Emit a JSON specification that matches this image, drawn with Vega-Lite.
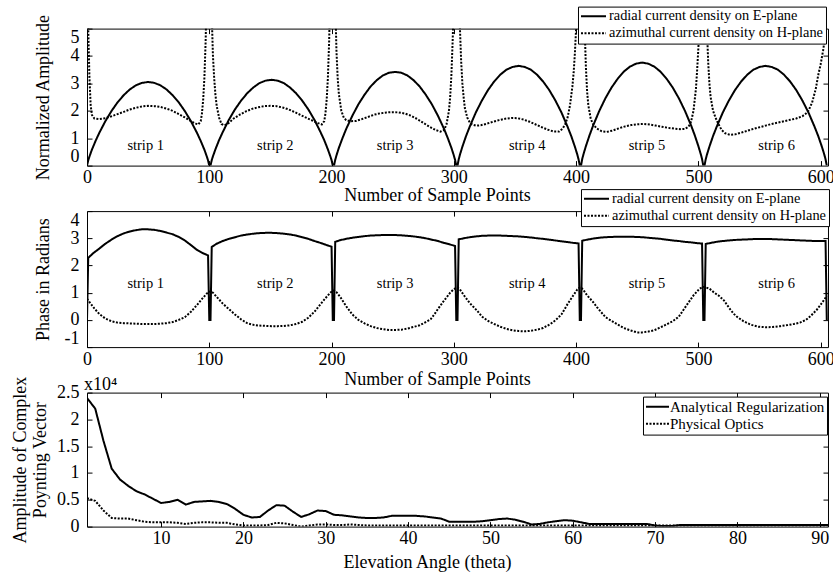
{
"$schema":"https://vega.github.io/schema/vega-lite/v6.json",
"background":"white",
"padding":{"left":10,"top":5.6,"right":0,"bottom":0},
"bounds":"flush",
"spacing":45.5,
"resolve":{"scale":{"strokeDash":"independent"},"legend":{"strokeDash":"independent"}},
"config":{
 "view":{"stroke":"black","strokeWidth":1},
 "font":"Liberation Serif",
 "axis":{"labelFont":"Liberation Serif","labelFontSize":18,"labelColor":"black","titleFont":"Liberation Serif","titleFontSize":18,"titleFontWeight":"normal","titleColor":"black","grid":false,"domain":false,"tickColor":"black","tickSize":-5,"labelPadding":8,"labelFlush":false,"labelExpr":"'' + datum.value"},
 "axisY":{"labelPadding":13},
 "legend":{"labelFont":"Liberation Serif","labelFontSize":14.4,"labelColor":"black","symbolType":"stroke","symbolStrokeColor":"black","symbolStrokeWidth":2,"symbolSize":625,"clipHeight":15.3,"rowPadding":0,"padding":2,"strokeColor":"black","fillColor":"white","labelOffset":2,"labelLimit":400}
},
"datasets":{
"amp":[
{"x":0,"y":0,"s":"E"},{"x":1,"y":0.19,"s":"E"},{"x":2,"y":0.33,"s":"E"},{"x":4,"y":0.58,"s":"E"},{"x":7,"y":0.9,"s":"E"},{"x":10,"y":1.19,"s":"E"},{"x":15,"y":1.62,"s":"E"},{"x":20,"y":1.99,"s":"E"},{"x":25,"y":2.31,"s":"E"},{"x":30,"y":2.57,"s":"E"},{"x":35,"y":2.78,"s":"E"},{"x":40,"y":2.93,"s":"E"},{"x":45,"y":3.02,"s":"E"},{"x":50,"y":3.05,"s":"E"},{"x":55,"y":3.02,"s":"E"},{"x":60,"y":2.93,"s":"E"},{"x":65,"y":2.78,"s":"E"},{"x":70,"y":2.57,"s":"E"},{"x":75,"y":2.31,"s":"E"},{"x":80,"y":1.99,"s":"E"},{"x":85,"y":1.62,"s":"E"},{"x":90,"y":1.19,"s":"E"},{"x":93,"y":0.9,"s":"E"},{"x":96,"y":0.58,"s":"E"},{"x":98,"y":0.33,"s":"E"},{"x":99,"y":0.19,"s":"E"},{"x":100,"y":0,"s":"E"},
{"x":101,"y":0,"s":"E"},{"x":102,"y":0.2,"s":"E"},{"x":103,"y":0.34,"s":"E"},{"x":105,"y":0.59,"s":"E"},{"x":108,"y":0.93,"s":"E"},{"x":111,"y":1.22,"s":"E"},{"x":116,"y":1.67,"s":"E"},{"x":121,"y":2.05,"s":"E"},{"x":126,"y":2.37,"s":"E"},{"x":131,"y":2.64,"s":"E"},{"x":136,"y":2.85,"s":"E"},{"x":141,"y":3.01,"s":"E"},{"x":146,"y":3.1,"s":"E"},{"x":151,"y":3.13,"s":"E"},{"x":156,"y":3.1,"s":"E"},{"x":161,"y":3.01,"s":"E"},{"x":166,"y":2.85,"s":"E"},{"x":171,"y":2.64,"s":"E"},{"x":176,"y":2.37,"s":"E"},{"x":181,"y":2.05,"s":"E"},{"x":186,"y":1.67,"s":"E"},{"x":191,"y":1.22,"s":"E"},{"x":194,"y":0.93,"s":"E"},{"x":197,"y":0.59,"s":"E"},{"x":199,"y":0.34,"s":"E"},{"x":200,"y":0.2,"s":"E"},{"x":201,"y":0,"s":"E"},
{"x":202,"y":0,"s":"E"},{"x":203,"y":0.21,"s":"E"},{"x":204,"y":0.37,"s":"E"},{"x":206,"y":0.65,"s":"E"},{"x":209,"y":1.01,"s":"E"},{"x":212,"y":1.34,"s":"E"},{"x":217,"y":1.82,"s":"E"},{"x":222,"y":2.24,"s":"E"},{"x":227,"y":2.59,"s":"E"},{"x":232,"y":2.89,"s":"E"},{"x":237,"y":3.12,"s":"E"},{"x":242,"y":3.29,"s":"E"},{"x":247,"y":3.39,"s":"E"},{"x":252,"y":3.42,"s":"E"},{"x":257,"y":3.39,"s":"E"},{"x":262,"y":3.29,"s":"E"},{"x":267,"y":3.12,"s":"E"},{"x":272,"y":2.89,"s":"E"},{"x":277,"y":2.59,"s":"E"},{"x":282,"y":2.24,"s":"E"},{"x":287,"y":1.82,"s":"E"},{"x":292,"y":1.34,"s":"E"},{"x":295,"y":1.01,"s":"E"},{"x":298,"y":0.65,"s":"E"},{"x":300,"y":0.37,"s":"E"},{"x":301,"y":0.21,"s":"E"},{"x":302,"y":0,"s":"E"},
{"x":303,"y":0,"s":"E"},{"x":304,"y":0.23,"s":"E"},{"x":305,"y":0.4,"s":"E"},{"x":307,"y":0.69,"s":"E"},{"x":310,"y":1.08,"s":"E"},{"x":313,"y":1.42,"s":"E"},{"x":318,"y":1.94,"s":"E"},{"x":323,"y":2.38,"s":"E"},{"x":328,"y":2.76,"s":"E"},{"x":333,"y":3.07,"s":"E"},{"x":338,"y":3.32,"s":"E"},{"x":343,"y":3.5,"s":"E"},{"x":348,"y":3.6,"s":"E"},{"x":353,"y":3.64,"s":"E"},{"x":358,"y":3.6,"s":"E"},{"x":363,"y":3.5,"s":"E"},{"x":368,"y":3.32,"s":"E"},{"x":373,"y":3.07,"s":"E"},{"x":378,"y":2.76,"s":"E"},{"x":383,"y":2.38,"s":"E"},{"x":388,"y":1.94,"s":"E"},{"x":393,"y":1.42,"s":"E"},{"x":396,"y":1.08,"s":"E"},{"x":399,"y":0.69,"s":"E"},{"x":401,"y":0.4,"s":"E"},{"x":402,"y":0.23,"s":"E"},{"x":403,"y":0,"s":"E"},
{"x":404,"y":0,"s":"E"},{"x":405,"y":0.24,"s":"E"},{"x":406,"y":0.41,"s":"E"},{"x":408,"y":0.71,"s":"E"},{"x":411,"y":1.11,"s":"E"},{"x":414,"y":1.47,"s":"E"},{"x":419,"y":2.0,"s":"E"},{"x":424,"y":2.46,"s":"E"},{"x":429,"y":2.85,"s":"E"},{"x":434,"y":3.17,"s":"E"},{"x":439,"y":3.43,"s":"E"},{"x":444,"y":3.61,"s":"E"},{"x":449,"y":3.72,"s":"E"},{"x":454,"y":3.76,"s":"E"},{"x":459,"y":3.72,"s":"E"},{"x":464,"y":3.61,"s":"E"},{"x":469,"y":3.43,"s":"E"},{"x":474,"y":3.17,"s":"E"},{"x":479,"y":2.85,"s":"E"},{"x":484,"y":2.46,"s":"E"},{"x":489,"y":2.0,"s":"E"},{"x":494,"y":1.47,"s":"E"},{"x":497,"y":1.11,"s":"E"},{"x":500,"y":0.71,"s":"E"},{"x":502,"y":0.41,"s":"E"},{"x":503,"y":0.24,"s":"E"},{"x":504,"y":0,"s":"E"},
{"x":505,"y":0,"s":"E"},{"x":506,"y":0.23,"s":"E"},{"x":507,"y":0.4,"s":"E"},{"x":509,"y":0.69,"s":"E"},{"x":512,"y":1.08,"s":"E"},{"x":515,"y":1.42,"s":"E"},{"x":520,"y":1.94,"s":"E"},{"x":525,"y":2.38,"s":"E"},{"x":530,"y":2.76,"s":"E"},{"x":535,"y":3.07,"s":"E"},{"x":540,"y":3.32,"s":"E"},{"x":545,"y":3.5,"s":"E"},{"x":550,"y":3.6,"s":"E"},{"x":555,"y":3.64,"s":"E"},{"x":560,"y":3.6,"s":"E"},{"x":565,"y":3.5,"s":"E"},{"x":570,"y":3.32,"s":"E"},{"x":575,"y":3.07,"s":"E"},{"x":580,"y":2.76,"s":"E"},{"x":585,"y":2.38,"s":"E"},{"x":590,"y":1.94,"s":"E"},{"x":595,"y":1.42,"s":"E"},{"x":598,"y":1.08,"s":"E"},{"x":601,"y":0.69,"s":"E"},{"x":603,"y":0.4,"s":"E"},{"x":604,"y":0.23,"s":"E"},{"x":605,"y":0,"s":"E"},
{"x":0,"y":8,"s":"H"},{"x":1,"y":5,"s":"H"},{"x":2,"y":3.2,"s":"H"},{"x":3,"y":2.2,"s":"H"},{"x":4,"y":1.85,"s":"H"},{"x":6,"y":1.72,"s":"H"},{"x":10,"y":1.7,"s":"H"},{"x":15,"y":1.73,"s":"H"},{"x":20,"y":1.8,"s":"H"},{"x":25,"y":1.88,"s":"H"},{"x":30,"y":1.96,"s":"H"},{"x":35,"y":2.05,"s":"H"},{"x":40,"y":2.11,"s":"H"},{"x":45,"y":2.16,"s":"H"},{"x":50,"y":2.18,"s":"H"},{"x":55,"y":2.17,"s":"H"},{"x":60,"y":2.14,"s":"H"},{"x":65,"y":2.08,"s":"H"},{"x":70,"y":2.0,"s":"H"},{"x":75,"y":1.88,"s":"H"},{"x":80,"y":1.76,"s":"H"},{"x":85,"y":1.62,"s":"H"},{"x":89,"y":1.53,"s":"H"},{"x":91,"y":1.5,"s":"H"},{"x":93,"y":1.62,"s":"H"},{"x":94,"y":1.9,"s":"H"},{"x":95,"y":2.4,"s":"H"},{"x":96,"y":3.2,"s":"H"},{"x":97,"y":4.5,"s":"H"},{"x":98,"y":6.5,"s":"H"},{"x":99,"y":9,"s":"H"},{"x":100,"y":12,"s":"H"},
{"x":101,"y":12,"s":"H"},{"x":102,"y":5.5,"s":"H"},{"x":103,"y":4.0,"s":"H"},{"x":104,"y":3.2,"s":"H"},{"x":105,"y":2.6,"s":"H"},{"x":106,"y":2.2,"s":"H"},{"x":108,"y":1.75,"s":"H"},{"x":110,"y":1.52,"s":"H"},{"x":112,"y":1.47,"s":"H"},{"x":115,"y":1.52,"s":"H"},{"x":120,"y":1.72,"s":"H"},{"x":125,"y":1.86,"s":"H"},{"x":130,"y":1.98,"s":"H"},{"x":135,"y":2.07,"s":"H"},{"x":140,"y":2.13,"s":"H"},{"x":145,"y":2.17,"s":"H"},{"x":150,"y":2.18,"s":"H"},{"x":155,"y":2.17,"s":"H"},{"x":160,"y":2.12,"s":"H"},{"x":165,"y":2.05,"s":"H"},{"x":170,"y":1.95,"s":"H"},{"x":175,"y":1.84,"s":"H"},{"x":180,"y":1.73,"s":"H"},{"x":185,"y":1.63,"s":"H"},{"x":189,"y":1.55,"s":"H"},{"x":192,"y":1.5,"s":"H"},{"x":194,"y":1.62,"s":"H"},{"x":195,"y":1.9,"s":"H"},{"x":196,"y":2.4,"s":"H"},{"x":197,"y":3.2,"s":"H"},{"x":198,"y":4.5,"s":"H"},{"x":199,"y":6.5,"s":"H"},{"x":200,"y":9,"s":"H"},{"x":201,"y":12,"s":"H"},
{"x":202,"y":12,"s":"H"},{"x":203,"y":6,"s":"H"},{"x":204,"y":4.2,"s":"H"},{"x":205,"y":3.2,"s":"H"},{"x":206,"y":2.6,"s":"H"},{"x":208,"y":2.0,"s":"H"},{"x":210,"y":1.75,"s":"H"},{"x":212,"y":1.66,"s":"H"},{"x":215,"y":1.62,"s":"H"},{"x":220,"y":1.63,"s":"H"},{"x":225,"y":1.7,"s":"H"},{"x":230,"y":1.78,"s":"H"},{"x":235,"y":1.86,"s":"H"},{"x":240,"y":1.91,"s":"H"},{"x":245,"y":1.94,"s":"H"},{"x":250,"y":1.95,"s":"H"},{"x":255,"y":1.94,"s":"H"},{"x":260,"y":1.9,"s":"H"},{"x":265,"y":1.82,"s":"H"},{"x":270,"y":1.7,"s":"H"},{"x":275,"y":1.56,"s":"H"},{"x":280,"y":1.42,"s":"H"},{"x":285,"y":1.3,"s":"H"},{"x":289,"y":1.24,"s":"H"},{"x":292,"y":1.3,"s":"H"},{"x":294,"y":1.5,"s":"H"},{"x":296,"y":2.0,"s":"H"},{"x":297,"y":2.5,"s":"H"},{"x":298,"y":3.3,"s":"H"},{"x":299,"y":4.5,"s":"H"},{"x":300,"y":6,"s":"H"},{"x":301,"y":8.5,"s":"H"},{"x":302,"y":12,"s":"H"},
{"x":303,"y":12,"s":"H"},{"x":304,"y":7,"s":"H"},{"x":305,"y":5.0,"s":"H"},{"x":306,"y":3.8,"s":"H"},{"x":307,"y":3.0,"s":"H"},{"x":308,"y":2.5,"s":"H"},{"x":309,"y":2.1,"s":"H"},{"x":311,"y":1.75,"s":"H"},{"x":313,"y":1.58,"s":"H"},{"x":315,"y":1.5,"s":"H"},{"x":318,"y":1.46,"s":"H"},{"x":322,"y":1.47,"s":"H"},{"x":327,"y":1.53,"s":"H"},{"x":332,"y":1.6,"s":"H"},{"x":337,"y":1.66,"s":"H"},{"x":342,"y":1.71,"s":"H"},{"x":347,"y":1.74,"s":"H"},{"x":352,"y":1.73,"s":"H"},{"x":357,"y":1.68,"s":"H"},{"x":362,"y":1.6,"s":"H"},{"x":367,"y":1.5,"s":"H"},{"x":372,"y":1.4,"s":"H"},{"x":377,"y":1.31,"s":"H"},{"x":382,"y":1.24,"s":"H"},{"x":386,"y":1.24,"s":"H"},{"x":389,"y":1.35,"s":"H"},{"x":391,"y":1.5,"s":"H"},{"x":393,"y":1.75,"s":"H"},{"x":395,"y":2.2,"s":"H"},{"x":397,"y":2.9,"s":"H"},{"x":398,"y":3.4,"s":"H"},{"x":399,"y":4.1,"s":"H"},{"x":400,"y":5.0,"s":"H"},{"x":401,"y":6.5,"s":"H"},{"x":402,"y":9,"s":"H"},{"x":403,"y":12,"s":"H"},
{"x":404,"y":12,"s":"H"},{"x":405,"y":9,"s":"H"},{"x":406,"y":6.5,"s":"H"},{"x":407,"y":5.0,"s":"H"},{"x":408,"y":3.6,"s":"H"},{"x":409,"y":2.7,"s":"H"},{"x":410,"y":2.2,"s":"H"},{"x":412,"y":1.7,"s":"H"},{"x":414,"y":1.5,"s":"H"},{"x":417,"y":1.35,"s":"H"},{"x":421,"y":1.25,"s":"H"},{"x":425,"y":1.23,"s":"H"},{"x":430,"y":1.28,"s":"H"},{"x":435,"y":1.36,"s":"H"},{"x":440,"y":1.43,"s":"H"},{"x":445,"y":1.48,"s":"H"},{"x":450,"y":1.51,"s":"H"},{"x":455,"y":1.52,"s":"H"},{"x":460,"y":1.5,"s":"H"},{"x":465,"y":1.46,"s":"H"},{"x":470,"y":1.42,"s":"H"},{"x":475,"y":1.38,"s":"H"},{"x":480,"y":1.35,"s":"H"},{"x":485,"y":1.33,"s":"H"},{"x":489,"y":1.34,"s":"H"},{"x":492,"y":1.42,"s":"H"},{"x":494,"y":1.6,"s":"H"},{"x":496,"y":2.0,"s":"H"},{"x":498,"y":2.8,"s":"H"},{"x":499,"y":3.5,"s":"H"},{"x":500,"y":4.3,"s":"H"},{"x":501,"y":5.2,"s":"H"},{"x":502,"y":6.5,"s":"H"},{"x":503,"y":9,"s":"H"},{"x":504,"y":12,"s":"H"},
{"x":505,"y":12,"s":"H"},{"x":506,"y":7,"s":"H"},{"x":507,"y":5.0,"s":"H"},{"x":508,"y":3.8,"s":"H"},{"x":509,"y":3.0,"s":"H"},{"x":510,"y":2.5,"s":"H"},{"x":512,"y":2.0,"s":"H"},{"x":514,"y":1.75,"s":"H"},{"x":516,"y":1.55,"s":"H"},{"x":519,"y":1.3,"s":"H"},{"x":522,"y":1.18,"s":"H"},{"x":526,"y":1.12,"s":"H"},{"x":530,"y":1.14,"s":"H"},{"x":535,"y":1.2,"s":"H"},{"x":540,"y":1.27,"s":"H"},{"x":545,"y":1.34,"s":"H"},{"x":550,"y":1.4,"s":"H"},{"x":555,"y":1.46,"s":"H"},{"x":560,"y":1.52,"s":"H"},{"x":565,"y":1.57,"s":"H"},{"x":570,"y":1.62,"s":"H"},{"x":575,"y":1.67,"s":"H"},{"x":580,"y":1.72,"s":"H"},{"x":585,"y":1.8,"s":"H"},{"x":588,"y":1.9,"s":"H"},{"x":590,"y":2.0,"s":"H"},{"x":593,"y":2.3,"s":"H"},{"x":596,"y":2.8,"s":"H"},{"x":598,"y":3.3,"s":"H"},{"x":600,"y":3.7,"s":"H"},{"x":602,"y":4.2,"s":"H"},{"x":604,"y":4.8,"s":"H"},{"x":605,"y":5.5,"s":"H"},{"x":606,"y":7,"s":"H"}
],
"phase":[
{"x":0,"y":0,"s":"E"},{"x":1,"y":2.28,"s":"E"},{"x":5,"y":2.45,"s":"E"},{"x":10,"y":2.62,"s":"E"},{"x":15,"y":2.8,"s":"E"},{"x":20,"y":2.95,"s":"E"},{"x":25,"y":3.08,"s":"E"},{"x":30,"y":3.18,"s":"E"},{"x":35,"y":3.25,"s":"E"},{"x":40,"y":3.3,"s":"E"},{"x":45,"y":3.33,"s":"E"},{"x":50,"y":3.33,"s":"E"},{"x":55,"y":3.31,"s":"E"},{"x":60,"y":3.27,"s":"E"},{"x":65,"y":3.21,"s":"E"},{"x":70,"y":3.15,"s":"E"},{"x":75,"y":3.05,"s":"E"},{"x":80,"y":2.92,"s":"E"},{"x":85,"y":2.75,"s":"E"},{"x":90,"y":2.57,"s":"E"},{"x":95,"y":2.45,"s":"E"},{"x":99,"y":2.37,"s":"E"},{"x":100,"y":0,"s":"E"},
{"x":101,"y":0,"s":"E"},{"x":102,"y":2.68,"s":"E"},{"x":106,"y":2.8,"s":"E"},{"x":111,"y":2.9,"s":"E"},{"x":116,"y":2.98,"s":"E"},{"x":121,"y":3.04,"s":"E"},{"x":126,"y":3.1,"s":"E"},{"x":131,"y":3.14,"s":"E"},{"x":136,"y":3.17,"s":"E"},{"x":141,"y":3.19,"s":"E"},{"x":146,"y":3.2,"s":"E"},{"x":151,"y":3.2,"s":"E"},{"x":156,"y":3.19,"s":"E"},{"x":161,"y":3.17,"s":"E"},{"x":166,"y":3.14,"s":"E"},{"x":171,"y":3.1,"s":"E"},{"x":176,"y":3.04,"s":"E"},{"x":181,"y":2.98,"s":"E"},{"x":186,"y":2.9,"s":"E"},{"x":191,"y":2.83,"s":"E"},{"x":196,"y":2.75,"s":"E"},{"x":200,"y":2.69,"s":"E"},{"x":201,"y":0,"s":"E"},
{"x":202,"y":0,"s":"E"},{"x":203,"y":2.87,"s":"E"},{"x":207,"y":2.93,"s":"E"},{"x":212,"y":2.98,"s":"E"},{"x":217,"y":3.02,"s":"E"},{"x":222,"y":3.05,"s":"E"},{"x":227,"y":3.08,"s":"E"},{"x":232,"y":3.1,"s":"E"},{"x":237,"y":3.11,"s":"E"},{"x":242,"y":3.12,"s":"E"},{"x":247,"y":3.12,"s":"E"},{"x":252,"y":3.12,"s":"E"},{"x":257,"y":3.11,"s":"E"},{"x":262,"y":3.09,"s":"E"},{"x":267,"y":3.07,"s":"E"},{"x":272,"y":3.04,"s":"E"},{"x":277,"y":3.0,"s":"E"},{"x":282,"y":2.95,"s":"E"},{"x":287,"y":2.9,"s":"E"},{"x":292,"y":2.83,"s":"E"},{"x":297,"y":2.77,"s":"E"},{"x":301,"y":2.72,"s":"E"},{"x":302,"y":0,"s":"E"},
{"x":303,"y":0,"s":"E"},{"x":304,"y":2.96,"s":"E"},{"x":308,"y":3.0,"s":"E"},{"x":313,"y":3.04,"s":"E"},{"x":318,"y":3.07,"s":"E"},{"x":323,"y":3.09,"s":"E"},{"x":328,"y":3.1,"s":"E"},{"x":333,"y":3.1,"s":"E"},{"x":338,"y":3.1,"s":"E"},{"x":343,"y":3.09,"s":"E"},{"x":348,"y":3.08,"s":"E"},{"x":353,"y":3.07,"s":"E"},{"x":358,"y":3.05,"s":"E"},{"x":363,"y":3.03,"s":"E"},{"x":368,"y":3.0,"s":"E"},{"x":373,"y":2.98,"s":"E"},{"x":378,"y":2.95,"s":"E"},{"x":383,"y":2.92,"s":"E"},{"x":388,"y":2.89,"s":"E"},{"x":393,"y":2.86,"s":"E"},{"x":398,"y":2.83,"s":"E"},{"x":402,"y":2.81,"s":"E"},{"x":403,"y":0,"s":"E"},
{"x":404,"y":0,"s":"E"},{"x":405,"y":2.91,"s":"E"},{"x":409,"y":2.95,"s":"E"},{"x":414,"y":2.99,"s":"E"},{"x":419,"y":3.02,"s":"E"},{"x":424,"y":3.04,"s":"E"},{"x":429,"y":3.05,"s":"E"},{"x":434,"y":3.06,"s":"E"},{"x":439,"y":3.06,"s":"E"},{"x":444,"y":3.06,"s":"E"},{"x":449,"y":3.05,"s":"E"},{"x":454,"y":3.04,"s":"E"},{"x":459,"y":3.02,"s":"E"},{"x":464,"y":3.0,"s":"E"},{"x":469,"y":2.98,"s":"E"},{"x":474,"y":2.95,"s":"E"},{"x":479,"y":2.92,"s":"E"},{"x":484,"y":2.9,"s":"E"},{"x":489,"y":2.87,"s":"E"},{"x":494,"y":2.85,"s":"E"},{"x":499,"y":2.82,"s":"E"},{"x":503,"y":2.81,"s":"E"},{"x":504,"y":0,"s":"E"},
{"x":505,"y":0,"s":"E"},{"x":506,"y":2.79,"s":"E"},{"x":510,"y":2.83,"s":"E"},{"x":515,"y":2.87,"s":"E"},{"x":520,"y":2.9,"s":"E"},{"x":525,"y":2.92,"s":"E"},{"x":530,"y":2.94,"s":"E"},{"x":535,"y":2.95,"s":"E"},{"x":540,"y":2.96,"s":"E"},{"x":545,"y":2.97,"s":"E"},{"x":550,"y":2.97,"s":"E"},{"x":555,"y":2.97,"s":"E"},{"x":560,"y":2.97,"s":"E"},{"x":565,"y":2.96,"s":"E"},{"x":570,"y":2.95,"s":"E"},{"x":575,"y":2.94,"s":"E"},{"x":580,"y":2.93,"s":"E"},{"x":585,"y":2.92,"s":"E"},{"x":590,"y":2.91,"s":"E"},{"x":595,"y":2.9,"s":"E"},{"x":600,"y":2.9,"s":"E"},{"x":604,"y":2.9,"s":"E"},{"x":605,"y":0,"s":"E"},
{"x":0,"y":0.78,"s":"H"},{"x":3,"y":0.6,"s":"H"},{"x":6,"y":0.42,"s":"H"},{"x":10,"y":0.22,"s":"H"},{"x":15,"y":0.05,"s":"H"},{"x":20,"y":-0.05,"s":"H"},{"x":25,"y":-0.1,"s":"H"},{"x":30,"y":-0.12,"s":"H"},{"x":35,"y":-0.13,"s":"H"},{"x":40,"y":-0.14,"s":"H"},{"x":45,"y":-0.15,"s":"H"},{"x":50,"y":-0.15,"s":"H"},{"x":55,"y":-0.15,"s":"H"},{"x":60,"y":-0.14,"s":"H"},{"x":65,"y":-0.12,"s":"H"},{"x":70,"y":-0.08,"s":"H"},{"x":75,"y":0.0,"s":"H"},{"x":80,"y":0.1,"s":"H"},{"x":85,"y":0.3,"s":"H"},{"x":90,"y":0.55,"s":"H"},{"x":95,"y":0.82,"s":"H"},{"x":98,"y":0.97,"s":"H"},{"x":100,"y":1.03,"s":"H"},
{"x":101,"y":1.05,"s":"H"},{"x":103,"y":1.0,"s":"H"},{"x":106,"y":0.85,"s":"H"},{"x":111,"y":0.6,"s":"H"},{"x":116,"y":0.4,"s":"H"},{"x":121,"y":0.2,"s":"H"},{"x":126,"y":0.02,"s":"H"},{"x":131,"y":-0.12,"s":"H"},{"x":136,"y":-0.18,"s":"H"},{"x":141,"y":-0.21,"s":"H"},{"x":146,"y":-0.22,"s":"H"},{"x":151,"y":-0.23,"s":"H"},{"x":156,"y":-0.23,"s":"H"},{"x":161,"y":-0.22,"s":"H"},{"x":166,"y":-0.2,"s":"H"},{"x":171,"y":-0.15,"s":"H"},{"x":176,"y":-0.07,"s":"H"},{"x":181,"y":0.08,"s":"H"},{"x":186,"y":0.3,"s":"H"},{"x":191,"y":0.58,"s":"H"},{"x":196,"y":0.85,"s":"H"},{"x":199,"y":1.0,"s":"H"},{"x":201,"y":1.07,"s":"H"},
{"x":202,"y":1.08,"s":"H"},{"x":204,"y":1.02,"s":"H"},{"x":207,"y":0.85,"s":"H"},{"x":212,"y":0.5,"s":"H"},{"x":217,"y":0.2,"s":"H"},{"x":222,"y":0.0,"s":"H"},{"x":227,"y":-0.13,"s":"H"},{"x":232,"y":-0.23,"s":"H"},{"x":237,"y":-0.3,"s":"H"},{"x":242,"y":-0.34,"s":"H"},{"x":247,"y":-0.37,"s":"H"},{"x":252,"y":-0.37,"s":"H"},{"x":257,"y":-0.36,"s":"H"},{"x":262,"y":-0.32,"s":"H"},{"x":267,"y":-0.26,"s":"H"},{"x":272,"y":-0.2,"s":"H"},{"x":277,"y":-0.08,"s":"H"},{"x":281,"y":0.02,"s":"H"},{"x":284,"y":0.2,"s":"H"},{"x":287,"y":0.4,"s":"H"},{"x":292,"y":0.71,"s":"H"},{"x":297,"y":1.0,"s":"H"},{"x":300,"y":1.13,"s":"H"},{"x":302,"y":1.18,"s":"H"},
{"x":303,"y":1.19,"s":"H"},{"x":305,"y":1.12,"s":"H"},{"x":308,"y":0.92,"s":"H"},{"x":313,"y":0.62,"s":"H"},{"x":319,"y":0.34,"s":"H"},{"x":323,"y":0.12,"s":"H"},{"x":328,"y":-0.04,"s":"H"},{"x":333,"y":-0.15,"s":"H"},{"x":338,"y":-0.25,"s":"H"},{"x":343,"y":-0.33,"s":"H"},{"x":348,"y":-0.38,"s":"H"},{"x":353,"y":-0.41,"s":"H"},{"x":358,"y":-0.42,"s":"H"},{"x":363,"y":-0.4,"s":"H"},{"x":368,"y":-0.36,"s":"H"},{"x":373,"y":-0.3,"s":"H"},{"x":379,"y":-0.15,"s":"H"},{"x":383,"y":-0.02,"s":"H"},{"x":388,"y":0.2,"s":"H"},{"x":393,"y":0.58,"s":"H"},{"x":398,"y":0.92,"s":"H"},{"x":401,"y":1.12,"s":"H"},{"x":403,"y":1.19,"s":"H"},
{"x":404,"y":1.2,"s":"H"},{"x":406,"y":1.1,"s":"H"},{"x":409,"y":0.9,"s":"H"},{"x":414,"y":0.65,"s":"H"},{"x":417,"y":0.47,"s":"H"},{"x":424,"y":0.1,"s":"H"},{"x":431,"y":-0.09,"s":"H"},{"x":439,"y":-0.3,"s":"H"},{"x":444,"y":-0.38,"s":"H"},{"x":450,"y":-0.46,"s":"H"},{"x":454,"y":-0.46,"s":"H"},{"x":459,"y":-0.43,"s":"H"},{"x":464,"y":-0.38,"s":"H"},{"x":472,"y":-0.21,"s":"H"},{"x":479,"y":-0.05,"s":"H"},{"x":484,"y":0.12,"s":"H"},{"x":491,"y":0.58,"s":"H"},{"x":496,"y":0.9,"s":"H"},{"x":501,"y":1.15,"s":"H"},{"x":504,"y":1.21,"s":"H"},
{"x":505,"y":1.21,"s":"H"},{"x":509,"y":1.15,"s":"H"},{"x":513,"y":1.0,"s":"H"},{"x":517,"y":0.88,"s":"H"},{"x":521,"y":0.71,"s":"H"},{"x":525,"y":0.45,"s":"H"},{"x":529,"y":0.22,"s":"H"},{"x":532,"y":0.1,"s":"H"},{"x":537,"y":-0.05,"s":"H"},{"x":543,"y":-0.18,"s":"H"},{"x":549,"y":-0.25,"s":"H"},{"x":555,"y":-0.27,"s":"H"},{"x":561,"y":-0.26,"s":"H"},{"x":567,"y":-0.23,"s":"H"},{"x":573,"y":-0.19,"s":"H"},{"x":578,"y":-0.15,"s":"H"},{"x":583,"y":-0.1,"s":"H"},{"x":588,"y":0.0,"s":"H"},{"x":592,"y":0.15,"s":"H"},{"x":597,"y":0.38,"s":"H"},{"x":601,"y":0.62,"s":"H"},{"x":605,"y":0.88,"s":"H"}
],
"poynting":[
{"x":1,"y":2.4,"s":"A"},{"x":2,"y":2.2,"s":"A"},{"x":3,"y":1.6,"s":"A"},{"x":4,"y":1.08,"s":"A"},{"x":5,"y":0.88,"s":"A"},{"x":6,"y":0.76,"s":"A"},{"x":7,"y":0.66,"s":"A"},{"x":8,"y":0.6,"s":"A"},{"x":9,"y":0.52,"s":"A"},{"x":10,"y":0.44,"s":"A"},{"x":11,"y":0.46,"s":"A"},{"x":12,"y":0.5,"s":"A"},{"x":13,"y":0.41,"s":"A"},{"x":14,"y":0.46,"s":"A"},{"x":15,"y":0.47,"s":"A"},{"x":16,"y":0.48,"s":"A"},{"x":17,"y":0.46,"s":"A"},{"x":18,"y":0.42,"s":"A"},{"x":19,"y":0.33,"s":"A"},{"x":20,"y":0.22,"s":"A"},{"x":21,"y":0.17,"s":"A"},{"x":22,"y":0.18,"s":"A"},{"x":23,"y":0.3,"s":"A"},{"x":24,"y":0.4,"s":"A"},{"x":25,"y":0.39,"s":"A"},{"x":26,"y":0.28,"s":"A"},{"x":27,"y":0.18,"s":"A"},{"x":28,"y":0.23,"s":"A"},{"x":29,"y":0.3,"s":"A"},{"x":30,"y":0.29,"s":"A"},{"x":31,"y":0.22,"s":"A"},{"x":32,"y":0.21,"s":"A"},{"x":33,"y":0.19,"s":"A"},{"x":34,"y":0.17,"s":"A"},{"x":35,"y":0.16,"s":"A"},{"x":36,"y":0.16,"s":"A"},{"x":37,"y":0.17,"s":"A"},{"x":38,"y":0.2,"s":"A"},{"x":39,"y":0.2,"s":"A"},{"x":40,"y":0.2,"s":"A"},{"x":41,"y":0.2,"s":"A"},{"x":42,"y":0.19,"s":"A"},{"x":43,"y":0.17,"s":"A"},{"x":44,"y":0.15,"s":"A"},{"x":45,"y":0.09,"s":"A"},{"x":46,"y":0.09,"s":"A"},{"x":47,"y":0.09,"s":"A"},{"x":48,"y":0.09,"s":"A"},{"x":49,"y":0.1,"s":"A"},{"x":50,"y":0.12,"s":"A"},{"x":51,"y":0.14,"s":"A"},{"x":52,"y":0.15,"s":"A"},{"x":53,"y":0.13,"s":"A"},{"x":54,"y":0.09,"s":"A"},{"x":55,"y":0.04,"s":"A"},{"x":56,"y":0.05,"s":"A"},{"x":57,"y":0.08,"s":"A"},{"x":58,"y":0.1,"s":"A"},{"x":59,"y":0.12,"s":"A"},{"x":60,"y":0.11,"s":"A"},{"x":61,"y":0.08,"s":"A"},{"x":62,"y":0.05,"s":"A"},{"x":65,"y":0.05,"s":"A"},{"x":69,"y":0.05,"s":"A"},{"x":70,"y":0.02,"s":"A"},{"x":71,"y":0.01,"s":"A"},{"x":72,"y":0.01,"s":"A"},{"x":73,"y":0.03,"s":"A"},{"x":76,"y":0.03,"s":"A"},{"x":80,"y":0.03,"s":"A"},{"x":85,"y":0.03,"s":"A"},{"x":91,"y":0.03,"s":"A"},
{"x":1,"y":0.53,"s":"P"},{"x":2,"y":0.48,"s":"P"},{"x":3,"y":0.3,"s":"P"},{"x":4,"y":0.16,"s":"P"},{"x":5,"y":0.15,"s":"P"},{"x":6,"y":0.15,"s":"P"},{"x":7,"y":0.12,"s":"P"},{"x":8,"y":0.09,"s":"P"},{"x":9,"y":0.08,"s":"P"},{"x":10,"y":0.08,"s":"P"},{"x":11,"y":0.08,"s":"P"},{"x":12,"y":0.07,"s":"P"},{"x":13,"y":0.05,"s":"P"},{"x":14,"y":0.07,"s":"P"},{"x":15,"y":0.08,"s":"P"},{"x":16,"y":0.08,"s":"P"},{"x":17,"y":0.07,"s":"P"},{"x":18,"y":0.07,"s":"P"},{"x":19,"y":0.04,"s":"P"},{"x":20,"y":0.02,"s":"P"},{"x":21,"y":0.02,"s":"P"},{"x":22,"y":0.02,"s":"P"},{"x":23,"y":0.03,"s":"P"},{"x":24,"y":0.07,"s":"P"},{"x":25,"y":0.06,"s":"P"},{"x":26,"y":0.03,"s":"P"},{"x":27,"y":0.0,"s":"P"},{"x":28,"y":0.02,"s":"P"},{"x":29,"y":0.04,"s":"P"},{"x":30,"y":0.04,"s":"P"},{"x":31,"y":0.03,"s":"P"},{"x":32,"y":0.03,"s":"P"},{"x":33,"y":0.04,"s":"P"},{"x":35,"y":0.02,"s":"P"},{"x":40,"y":0.02,"s":"P"},{"x":50,"y":0.02,"s":"P"},{"x":60,"y":0.02,"s":"P"},{"x":70,"y":0.02,"s":"P"},{"x":80,"y":0.02,"s":"P"},{"x":91,"y":0.02,"s":"P"}
],
"strips1":[{"x":48,"y":0.72,"t":"strip 1"},{"x":154,"y":0.72,"t":"strip 2"},{"x":252,"y":0.72,"t":"strip 3"},{"x":360,"y":0.72,"t":"strip 4"},{"x":458,"y":0.72,"t":"strip 5"},{"x":564,"y":0.72,"t":"strip 6"}],
"strips2":[{"x":48,"y":1.33,"t":"strip 1"},{"x":154,"y":1.33,"t":"strip 2"},{"x":252,"y":1.33,"t":"strip 3"},{"x":360,"y":1.33,"t":"strip 4"},{"x":458,"y":1.33,"t":"strip 5"},{"x":564,"y":1.33,"t":"strip 6"}],
"expo":[{"x":1,"y":2.5,"t":"x10⁴"}]
},
"vconcat":[
{
 "width":741,"height":137,
 "layer":[
  {"data":{"name":"amp"},"mark":{"type":"line","clip":true,"strokeWidth":2,"color":"black"},
   "encoding":{
    "x":{"field":"x","type":"quantitative","scale":{"domain":[0,606],"nice":false,"zero":false},"axis":{"orient":"bottom","values":[0,100,200,300,400,500,600],"title":"Number of Sample Points","titleX":350,"titleY":35,"titleBaseline":"alphabetic"}},
    "y":{"field":"y","type":"quantitative","scale":{"domain":[0,5],"nice":false},"axis":{"orient":"left","values":[0,1,2,3,4,5],"title":"Normalized Amplitude","titleX":-44,"titleBaseline":"middle","labelFlush":true}},
    "strokeDash":{"field":"s","type":"nominal","scale":{"domain":["E","H"],"range":[[1,0],[2,1.5]]},"legend":{"orient":"none","title":null,"legendX":491,"legendY":-22,"labelExpr":"datum.label == 'E' ? 'radial current density on E-plane' : 'azimuthal current density on H-plane'"}}
   }},
  {"data":{"name":"strips1"},"mark":{"type":"text","font":"Liberation Serif","fontSize":14.5,"color":"black"},
   "encoding":{
    "x":{"field":"x","type":"quantitative","scale":{"domain":[0,606],"nice":false,"zero":false},"axis":{"orient":"top","values":[100,200,300,400,500,600],"labels":false,"title":null}},
    "y":{"field":"y","type":"quantitative","scale":{"domain":[0,5],"nice":false},"axis":{"orient":"right","values":[1,2,3,4],"labels":false,"title":null}},
    "text":{"field":"t"}
   }}
 ],
 "resolve":{"axis":{"x":"independent","y":"independent"}}
},
{
 "width":741,"height":136,
 "layer":[
  {"data":{"name":"phase"},"mark":{"type":"line","clip":true,"strokeWidth":2,"color":"black"},
   "encoding":{
    "x":{"field":"x","type":"quantitative","scale":{"domain":[0,606],"nice":false,"zero":false},"axis":{"orient":"bottom","values":[0,100,200,300,400,500,600],"title":"Number of Sample Points","titleX":350,"titleY":37,"titleBaseline":"alphabetic"}},
    "y":{"field":"y","type":"quantitative","scale":{"domain":[-1,4],"nice":false,"zero":false},"axis":{"orient":"left","values":[-1,0,1,2,3,4],"title":"Phase in Radians","titleX":-44,"titleBaseline":"middle","labelFlush":true}},
    "strokeDash":{"field":"s","type":"nominal","scale":{"domain":["E","H"],"range":[[1,0],[2,1.5]]},"legend":{"orient":"none","title":null,"legendX":494,"legendY":-22,"labelExpr":"datum.label == 'E' ? 'radial current density on E-plane' : 'azimuthal current density on H-plane'"}}
   }},
  {"data":{"name":"strips2"},"mark":{"type":"text","font":"Liberation Serif","fontSize":14.5,"color":"black"},
   "encoding":{
    "x":{"field":"x","type":"quantitative","scale":{"domain":[0,606],"nice":false,"zero":false},"axis":{"orient":"top","values":[100,200,300,400,500,600],"labels":false,"title":null}},
    "y":{"field":"y","type":"quantitative","scale":{"domain":[-1,4],"nice":false,"zero":false},"axis":{"orient":"right","values":[0,1,2,3],"labels":false,"title":null}},
    "text":{"field":"t"}
   }}
 ],
 "resolve":{"axis":{"x":"independent","y":"independent"}}
},
{
 "width":741,"height":134,
 "layer":[
  {"data":{"name":"poynting"},"mark":{"type":"line","clip":true,"strokeWidth":2,"color":"black"},
   "encoding":{
    "x":{"field":"x","type":"quantitative","scale":{"domain":[1,91],"nice":false,"zero":false},"axis":{"orient":"bottom","values":[10,20,30,40,50,60,70,80,90],"title":"Elevation Angle (theta)","titleX":340,"titleY":41,"titleBaseline":"alphabetic"}},
    "y":{"field":"y","type":"quantitative","scale":{"domain":[0,2.5],"nice":false},"axis":{"orient":"left","values":[0,0.5,1,1.5,2,2.5],"title":["Amplitude of Complex","Poynting Vector"],"titleX":-67,"titleBaseline":"middle","titleLineHeight":21}},
    "strokeDash":{"field":"s","type":"nominal","scale":{"domain":["A","P"],"range":[[1,0],[2,1.5]]},"legend":{"orient":"none","title":null,"legendX":556,"legendY":4,"labelFontSize":15,"symbolSize":529,"clipHeight":16.5,"labelOffset":0,"labelExpr":"datum.label == 'A' ? 'Analytical Regularization' : 'Physical Optics'"}}
   }},
  {"data":{"name":"expo"},"mark":{"type":"text","font":"Liberation Serif","fontSize":18,"color":"black","align":"left","baseline":"alphabetic","dx":-3,"dy":-3},
   "encoding":{
    "x":{"field":"x","type":"quantitative","scale":{"domain":[1,91],"nice":false,"zero":false},"axis":{"orient":"top","values":[10,20,30,40,50,60,70,80,90],"labels":false,"title":null}},
    "y":{"field":"y","type":"quantitative","scale":{"domain":[0,2.5],"nice":false},"axis":{"orient":"right","values":[0.5,1,1.5,2],"labels":false,"title":null}},
    "text":{"field":"t"}
   }}
 ],
 "resolve":{"axis":{"x":"independent","y":"independent"}}
}
]
}
